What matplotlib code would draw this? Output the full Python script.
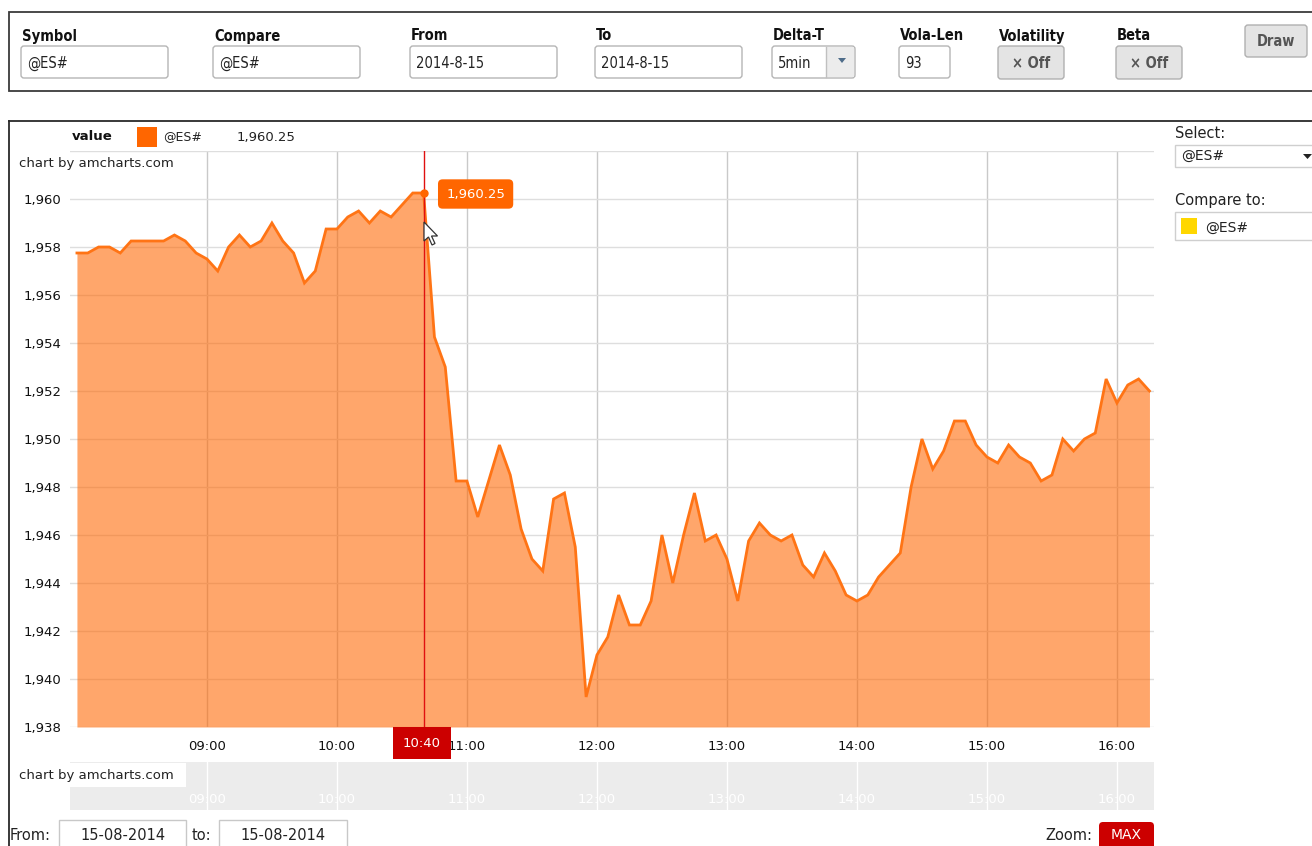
import matplotlib
matplotlib.use('Agg')
import matplotlib.pyplot as plt
import matplotlib.dates as mdates
from matplotlib.patches import Rectangle, FancyBboxPatch, Polygon
import pandas as pd

# ---- data (5 min bars of @ES# on 2014-08-15) ----
symbol = '@ES#'
day = '2014-08-15'
prices = [
    1957.75, 1957.75, 1958.0, 1958.0, 1957.75, 1958.25, 1958.25, 1958.25, 1958.25, 1958.5,
    1958.25, 1957.75, 1957.5, 1957.0, 1958.0, 1958.5, 1958.0, 1958.25, 1959.0, 1958.25,
    1957.75, 1956.5, 1957.0, 1958.75, 1958.75, 1959.25, 1959.5, 1959.0, 1959.5, 1959.25,
    1959.75, 1960.25, 1960.25, 1954.25, 1953.0, 1948.25, 1948.25, 1946.75, 1948.25, 1949.75,
    1948.5, 1946.25, 1945.0, 1944.5, 1947.5, 1947.75, 1945.5, 1939.25, 1941.0, 1941.75,
    1943.5, 1942.25, 1942.25, 1943.25, 1946.0, 1944.0, 1946.0, 1947.75, 1945.75, 1946.0,
    1945.0, 1943.25, 1945.75, 1946.5, 1946.0, 1945.75, 1946.0, 1944.75, 1944.25, 1945.25,
    1944.5, 1943.5, 1943.25, 1943.5, 1944.25, 1944.75, 1945.25, 1948.0, 1950.0, 1948.75,
    1949.5, 1950.75, 1950.75, 1949.75, 1949.25, 1949.0, 1949.75, 1949.25, 1949.0, 1948.25,
    1948.5, 1950.0, 1949.5, 1950.0, 1950.25, 1952.5, 1951.5, 1952.25, 1952.5, 1952.0,
]
times = pd.date_range(day + ' 08:00', periods=len(prices), freq='5min')
sel = 32  # cursor sits on the 10:40 bar
y_ticks = list(range(1938, 1961, 2))
hours = pd.date_range(day + ' 09:00', day + ' 16:00', freq='1h')

W, H = 1312, 846
ORANGE = '#ff6600'
RED = '#cc0000'
NARROW = dict(family=['Liberation Sans Narrow', 'DejaVu Sans'], fontstretch='condensed')

fig = plt.figure(figsize=(W / 100, H / 100), dpi=100)


def frac(x0, y0, x1, y1):
    return [x0 / W, 1 - y1 / H, (x1 - x0) / W, (y1 - y0) / H]


# background layer in pixel coords
ui = fig.add_axes([0, 0, 1, 1], zorder=0, label='ui')
ui.set_xlim(0, W)
ui.set_ylim(H, 0)
ui.axis('off')


def box(a, x0, y0, x1, y1, fc='white', ec='#b5b5b5', r=3, lw=1, z=1):
    a.add_patch(FancyBboxPatch((x0, y0), x1 - x0, y1 - y0,
                               boxstyle='round,pad=0,rounding_size=%s' % r,
                               fc=fc, ec=ec, lw=lw, zorder=z))


# ---- top form panel ----
ui.add_patch(Rectangle((9, 12), W, 79, fc='white', ec='#3a3a3a', lw=1.3))
fields = [('Symbol', 21, 168, '@ES#'), ('Compare', 213, 360, '@ES#'),
          ('From', 410, 557, '2014-8-15'), ('To', 595, 742, '2014-8-15'),
          ('Vola-Len', 899, 950, '93')]
for lab, x0, x1, val in fields:
    ui.text(x0 + 1, 36, lab, weight='bold', fontsize=10.5, va='center', color='#111', **NARROW)
    box(ui, x0, 46, x1, 78)
    ui.text(x0 + 6, 63, val, fontsize=10.5, va='center', color='#222', **NARROW)

ui.text(773, 36, 'Delta-T', weight='bold', fontsize=10.5, va='center', color='#111', **NARROW)
box(ui, 772, 46, 855, 78)
ui.add_patch(Rectangle((826, 47), 28, 30, fc='#ececec', ec='none'))
ui.plot([826, 826], [47, 77], color='#c0c0c0', lw=1)
ui.add_patch(Polygon([[838, 58], [846, 58], [842, 63]], closed=True, fc='#4f6d8a', ec='none'))
ui.text(778, 63, '5min', fontsize=10.5, va='center', color='#222', **NARROW)

for lab, x0, x1 in [('Volatility', 998, 1064), ('Beta', 1116, 1182)]:
    ui.text(x0 + 1, 36, lab, weight='bold', fontsize=10.5, va='center', color='#111', **NARROW)
    box(ui, x0, 46, x1, 79, fc='#e4e4e4', ec='#b0b0b0')
    ui.text((x0 + x1) / 2, 63, '× Off', weight='bold', fontsize=10.5,
            ha='center', va='center', color='#555', **NARROW)
box(ui, 1245, 25, 1307, 57, fc='#e4e4e4', ec='#b0b0b0')
ui.text(1276, 41, 'Draw', weight='bold', fontsize=10.5, ha='center', va='center', color='#555', **NARROW)

# ---- chart panel frame ----
ui.plot([9, W], [121, 121], color='#2a2a2a', lw=1.3)
ui.plot([9, 9], [121, H], color='#2a2a2a', lw=1.3)

# legend row
ui.text(72, 137, 'value', fontsize=9.5, weight='bold', va='center', color='#111')
ui.add_patch(Rectangle((137, 127), 20, 20, fc=ORANGE, ec='none'))
ui.text(163, 137, symbol, fontsize=9, va='center', color='#222')
ui.text(237, 137, '{:,.2f}'.format(prices[sel]), fontsize=9.5, va='center', color='#222')

# right side controls
ui.text(1175, 133, 'Select:', fontsize=10.5, va='center', color='#222')
ui.add_patch(Rectangle((1175, 145), 140, 22, fc='white', ec='#cfcfcf', lw=1))
ui.text(1181, 156, symbol, fontsize=10, va='center', color='#222')
ui.add_patch(Polygon([[1303, 154], [1312, 154], [1307.5, 159]], closed=True, fc='#222', ec='none'))
ui.text(1175, 201, 'Compare to:', fontsize=10.5, va='center', color='#222')
ui.add_patch(Rectangle((1175, 212), 140, 28, fc='white', ec='#cfcfcf', lw=1))
ui.add_patch(Rectangle((1181, 218), 16, 16, fc='#ffd700', ec='none'))
ui.text(1205, 228, symbol, fontsize=10, va='center', color='#222')

# bottom controls
ui.text(10, 835, 'From:', fontsize=10.5, va='center', color='#222')
ui.add_patch(Rectangle((59, 820), 127, 40, fc='white', ec='#c8c8c8', lw=1))
ui.text(122.5, 835, '15-08-2014', fontsize=10.5, ha='center', va='center', color='#222')
ui.text(192, 835, 'to:', fontsize=10.5, va='center', color='#222')
ui.add_patch(Rectangle((219, 820), 128, 40, fc='white', ec='#c8c8c8', lw=1))
ui.text(283, 835, '15-08-2014', fontsize=10.5, ha='center', va='center', color='#222')
ui.text(1092, 835, 'Zoom:', fontsize=10.5, ha='right', va='center', color='#222')
box(ui, 1099, 822, 1154, 856, fc=RED, ec='none', r=4)
ui.text(1126.5, 835, 'MAX', fontsize=10, ha='center', va='center', color='white')

# ---- main price chart ----
xlim = (times[0] - pd.Timedelta(minutes=3.2), times[-1] + pd.Timedelta(minutes=2.1))
ax = fig.add_axes(frac(70, 151, 1154, 727), zorder=5)
ax.set_facecolor('white')
ax.set_axisbelow(True)
ax.fill_between(times, prices, y_ticks[0], color=ORANGE, alpha=0.58, lw=0, zorder=2)
ax.plot(times, prices, color='#ff7415', lw=2, solid_joinstyle='miter', zorder=3)
ax.axvline(times[sel], color='#e01010', lw=1, zorder=4)
ax.plot(times[sel], prices[sel], 'o', color=ORANGE, ms=5, zorder=5)
ax.set_xlim(*xlim)
ax.set_ylim(y_ticks[0], y_ticks[-1] + 2)
ax.set_yticks(y_ticks + [y_ticks[-1] + 2])
ax.set_yticklabels(['{:,}'.format(v) for v in y_ticks] + [''])
ax.set_xticks(hours)
ax.xaxis.set_major_formatter(mdates.DateFormatter('%H:%M'))
ax.grid(axis='y', color='#dedede', lw=1)
ax.grid(axis='x', color='#c9c9c9', lw=1)
ax.tick_params(axis='y', length=0, pad=6, labelsize=9.5, labelcolor='#111')
ax.tick_params(axis='x', length=0, pad=9, labelsize=9.5, labelcolor='#111')
for s in ax.spines.values():
    s.set_visible(False)

# balloon and cursor category label
ax.annotate('{:,.2f}'.format(prices[sel]), xy=(times[sel], prices[sel]),
            xytext=(52, -1), textcoords='offset pixels', ha='center', va='center',
            fontsize=9.5, color='white', zorder=10,
            bbox=dict(boxstyle='round,pad=0.62,rounding_size=0.35', fc=ORANGE, ec='none'))
ax.annotate(times[sel].strftime('%H:%M'), xy=(times[sel], 0), xycoords=('data', 'axes fraction'),
            xytext=(-2, -16), textcoords='offset pixels', ha='center', va='center',
            fontsize=9.5, color='white', zorder=10, annotation_clip=False,
            bbox=dict(boxstyle='square,pad=0.75', fc=RED, ec='none'))

# ---- scrollbar strip ----
sb = fig.add_axes(frac(70, 762, 1154, 810), zorder=5)
sb.set_facecolor('#ececec')
sb.set_xlim(*xlim)
sb.set_yticks([])
sb.set_xticks(hours)
sb.xaxis.set_major_formatter(mdates.DateFormatter('%H:%M'))
sb.grid(axis='x', color='white', lw=1)
sb.tick_params(axis='x', length=0, pad=-12, labelsize=9.5, labelcolor='white')
for s in sb.spines.values():
    s.set_visible(False)

# front layer: watermarks and mouse pointer
fr = fig.add_axes([0, 0, 1, 1], zorder=20, label='front')
fr.set_xlim(0, W)
fr.set_ylim(H, 0)
fr.axis('off')
fr.patch.set_visible(False)
fr.text(19, 164, 'chart by amcharts.com', fontsize=9.5, va='center', color='#222')
fr.add_patch(Rectangle((14, 763), 172, 24, fc='white', ec='none'))
fr.text(19, 775, 'chart by amcharts.com', fontsize=9.5, va='center', color='#222')
fr.add_patch(Polygon([[424, 222], [424, 241], [428.5, 237], [432, 245], [435, 243.5],
                      [431.5, 236], [437.5, 236]], closed=True, fc='white', ec='#333', lw=0.9))

fig.savefig('out.png', dpi=100, facecolor='white')
